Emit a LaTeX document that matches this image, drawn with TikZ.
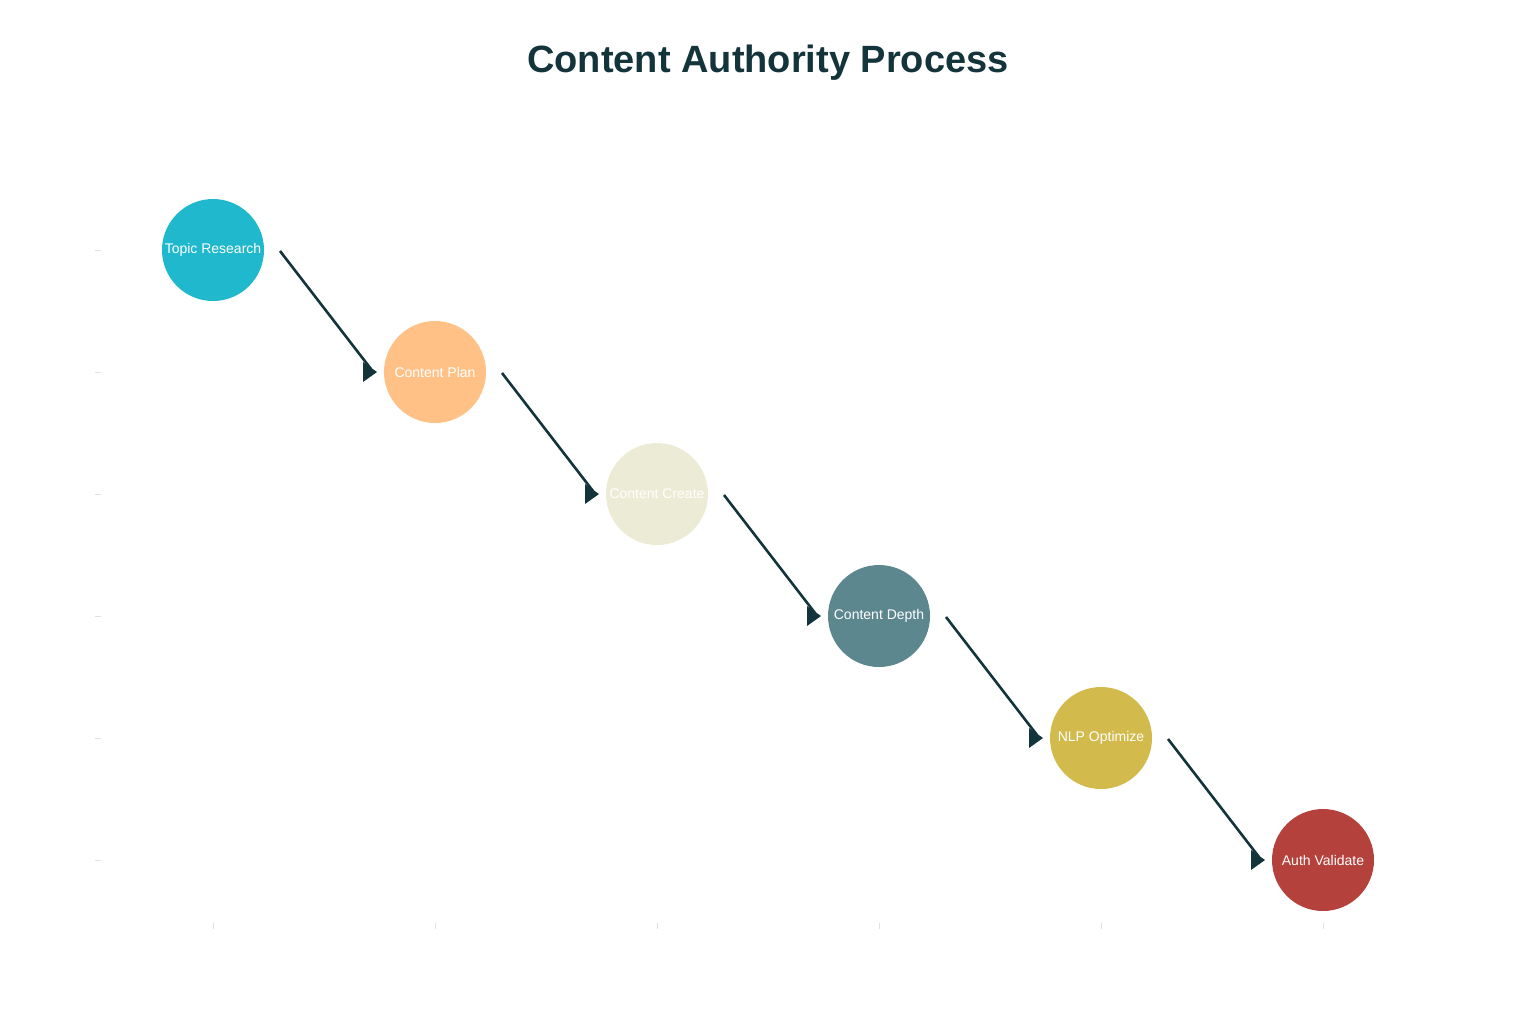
\documentclass[tikz,border=0pt]{standalone}
\usepackage{fontspec}
\setmainfont{Liberation Sans}
\usetikzlibrary{calc}
\definecolor{ttl}{HTML}{13343B}
\definecolor{cA}{HTML}{1FB8CD}
\definecolor{cB}{HTML}{FFC185}
\definecolor{cC}{HTML}{ECEBD5}
\definecolor{cD}{HTML}{5D878F}
\definecolor{cE}{HTML}{D2BA4C}
\definecolor{cF}{HTML}{B4413C}
\tikzset{
  stepnode/.style={circle, minimum size=51pt, inner sep=0pt, text=white, font=\fontsize{7}{8}\selectfont},
  conn/.style={draw=ttl, line width=1.3pt},
  tri/.style={fill=ttl},
  tickline/.style={draw=black!12, line width=0.5pt}
}
\begin{document}
\begin{tikzpicture}[x=0.5pt,y=-0.5pt]
\useasboundingbox (0,0) rectangle (1536,1024);
\node[font=\fontsize{19}{22}\selectfont\bfseries, text=ttl] (title) at (768,63) {Content Authority Process};
\foreach \y in {250,372,494,616,738,860} \draw[tickline] (95,\y) -- (101,\y);
\foreach \x in {213,435,657,879,1101,1323} \draw[tickline] (\x,923) -- (\x,929);
\node[stepnode, fill=cA] (a) at (213,250) {Topic Research};
\node[stepnode, fill=cB] (b) at (435,372) {Content Plan};
\node[stepnode, fill=cC] (c) at (657,494) {Content Create};
\node[stepnode, fill=cD] (d) at (879,616) {Content Depth};
\node[stepnode, fill=cE] (e) at (1101,738) {NLP Optimize};
\node[stepnode, fill=cF] (f) at (1323,860) {Auth Validate};
\foreach \p/\q in {a/b,b/c,c/d,d/e,e/f}{
  \coordinate (s\p) at ($(\p.center)+(67,1)$);
  \coordinate (t\p) at ($(\q.center)+(-58,0)$);
  \draw[conn] (s\p) -- ($(t\p)+(-6,-3)$);
  \fill[tri] ($(t\p)+(-14,-10)$) -- (t\p) -- ($(t\p)+(-14,10)$) -- cycle;
}
\end{tikzpicture}
\end{document}
